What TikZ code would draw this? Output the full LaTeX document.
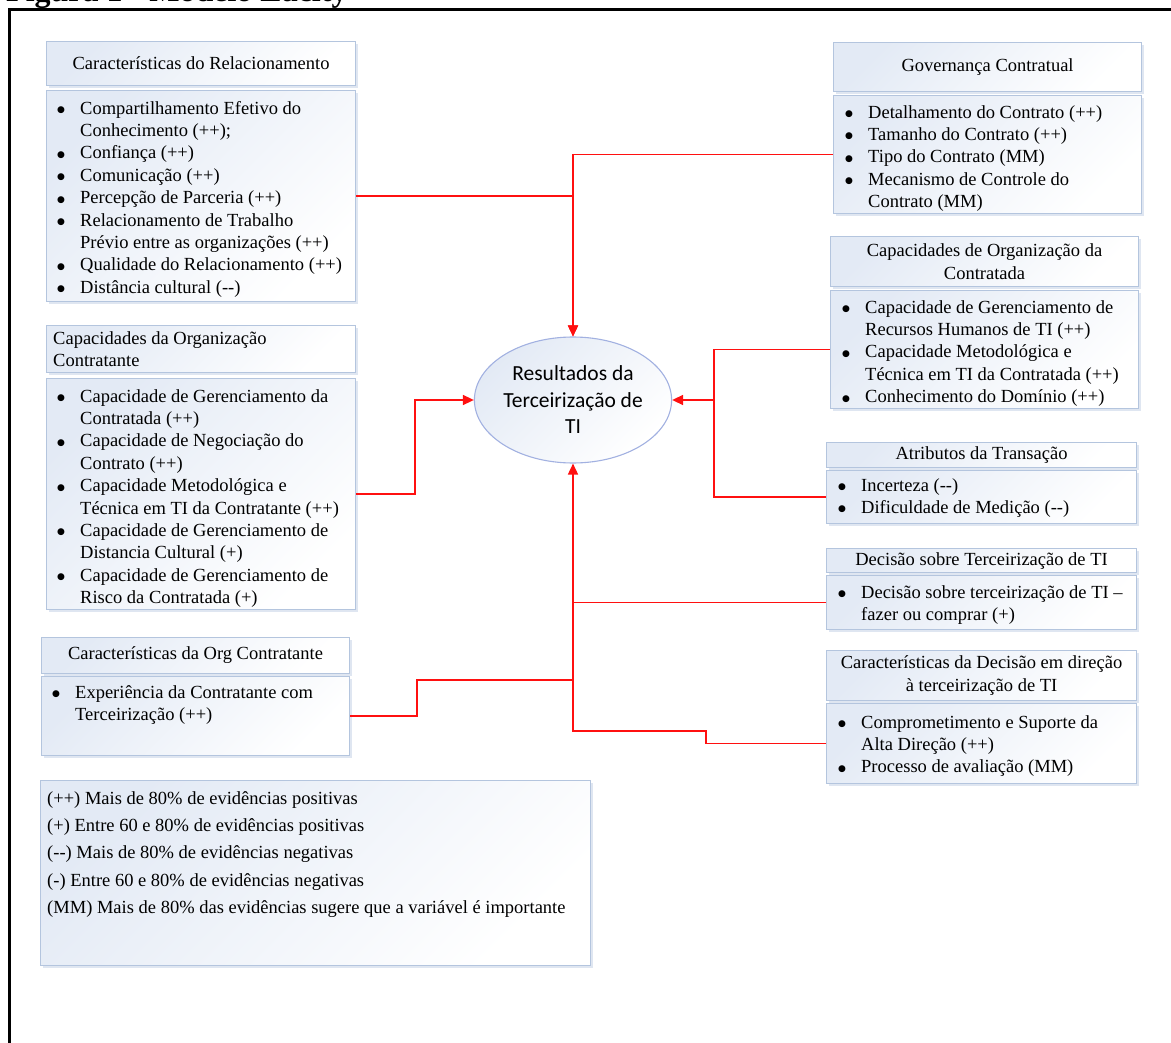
\documentclass[tikz,border=0pt]{standalone}
\usepackage{fontspec}
\setmainfont{Liberation Serif}
\newfontfamily\calfont{Carlito}
\newfontfamily\symfont{DejaVu Sans}
\usetikzlibrary{arrows.meta,shapes.geometric,shadows}

\definecolor{boxline}{HTML}{B4C5DE}
\definecolor{boxtop}{HTML}{E3EAF5}
\definecolor{shadowc}{HTML}{C9D5E8}
\definecolor{flow}{HTML}{FF1010}

% bullet list helpers
\newlength\bulw \setlength\bulw{23pt}
\newcommand\bul{\strut\makebox[\bulw][l]{\raisebox{1.6pt}{\symfont\fontsize{9}{9}\selectfont ●}}}
\newcommand\ind{\strut\hspace*{\bulw}}
\newcommand\dd{-{}-}

\tikzset{
  panel/.style={draw=boxline, line width=1.1pt, top color=boxtop, bottom color=white,
    shading angle=45, anchor=north west, inner sep=0pt, align=center,
    drop shadow={shadow xshift=2pt, shadow yshift=-2pt, fill=shadowc, opacity=0.6}},
  lst/.style={anchor=north west, inner sep=0pt, align=left},
  conn/.style={draw=flow, line width=1.6pt},
  arr/.style={conn, -{Triangle[length=11pt,width=10pt]}},
}

\begin{document}
\begin{tikzpicture}[x=1pt, y=-1pt, font=\fontsize{18.5}{22.4}\selectfont]
\path[use as bounding box] (0,0) rectangle (1171,1043);
\clip (0,0) rectangle (1171,1043);

% page title and frame
\node[anchor=base west, inner sep=0pt, font=\bfseries\fontsize{32}{36}\selectfont] (title) at (6,1.5) {Figura 1 - Modelo Lacity};
\draw[line width=3pt] (9.5,1050) -- (9.5,9.5) -- (1180,9.5);

% central outcome
\node[ellipse, draw=boxline!90!blue, line width=1.1pt, top color=boxtop, bottom color=white,
  shading angle=45, minimum width=186pt, minimum height=126pt, inner sep=0pt, align=center,
  font=\calfont\fontsize{21.5}{26.5}\selectfont] (res) at (573,400)
  {Resultados da\\Terceirização de\\TI};

% ---- left column ----
\node[panel, minimum width=309pt, minimum height=44pt] (hA) at (46,41) {Características do Relacionamento};
\node[panel, minimum width=309pt, minimum height=211pt] (bA) at (46,90) {};
\node[lst] (tA) at (57,98.3) {\bul Compartilhamento Efetivo do\\\ind Conhecimento (++);\\\bul Confiança (++)\\\bul Comunicação (++)\\\bul Percepção de Parceria (++)\\\bul Relacionamento de Trabalho\\\ind Prévio entre as organizações (++)\\\bul Qualidade do Relacionamento (++)\\\bul Distância cultural (\dd)};

\node[panel, minimum width=309pt, minimum height=47pt] (hB) at (46,325) {};
\node[lst] (thB) at (53,328.4) {\strut Capacidades da Organização\\\strut Contratante};
\node[panel, minimum width=309pt, minimum height=231pt] (bB) at (46,378) {};
\node[lst] (tB) at (57,386.3) {\bul Capacidade de Gerenciamento da\\\ind Contratada (++)\\\bul Capacidade de Negociação do\\\ind Contrato (++)\\\bul Capacidade Metodológica e\\\ind Técnica em TI da Contratante (++)\\\bul Capacidade de Gerenciamento de\\\ind Distancia Cultural (+)\\\bul Capacidade de Gerenciamento de\\\ind Risco da Contratada (+)};

\node[panel, minimum width=308pt, minimum height=36pt] (hC) at (41,637) {Características da Org Contratante};
\node[panel, minimum width=308pt, minimum height=79pt] (bC) at (41,676) {};
\node[lst] (tC) at (52,682.3) {\bul Experiência da Contratante com\\\ind Terceirização (++)};

\node[panel, minimum width=550pt, minimum height=185pt] (leg) at (40,780) {};
\node[lst, font=\fontsize{18.5}{27.3}\selectfont] (tleg) at (47,784.9) {\strut(++) Mais de 80\% de evidências positivas\\\strut(+) Entre 60 e 80\% de evidências positivas\\\strut(\dd) Mais de 80\% de evidências negativas\\\strut(-) Entre 60 e 80\% de evidências negativas\\\strut(MM) Mais de 80\% das evidências sugere que a variável é importante};

% ---- right column ----
\node[panel, minimum width=308pt, minimum height=49pt] (hD) at (833,42) {Governança Contratual};
\node[panel, minimum width=308pt, minimum height=118pt] (bD) at (833,95) {};
\node[lst] (tD) at (845,102.3) {\bul Detalhamento do Contrato (++)\\\bul Tamanho do Contrato (++)\\\bul Tipo do Contrato (MM)\\\bul Mecanismo de Controle do\\\ind Contrato (MM)};

\node[panel, minimum width=308pt, minimum height=50pt] (hE) at (830,236) {Capacidades de Organização da\\Contratada};
\node[panel, minimum width=308pt, minimum height=118pt] (bE) at (830,290) {};
\node[lst] (tE) at (842,297.3) {\bul Capacidade de Gerenciamento de\\\ind Recursos Humanos de TI (++)\\\bul Capacidade Metodológica e\\\ind Técnica em TI da Contratada (++)\\\bul Conhecimento do Domínio (++)};

\node[panel, minimum width=310pt, minimum height=25pt] (hF) at (826,442) {Atributos da Transação};
\node[panel, minimum width=310pt, minimum height=53pt] (bF) at (826,470) {};
\node[lst] (tF) at (838,475.3) {\bul Incerteza (\dd)\\\bul Dificuldade de Medição (\dd)};

\node[panel, minimum width=310pt, minimum height=24pt] (hG) at (826,548) {Decisão sobre Terceirização de TI};
\node[panel, minimum width=310pt, minimum height=54pt] (bG) at (826,575) {};
\node[lst] (tG) at (838,582.3) {\bul Decisão sobre terceirização de TI –\\\ind fazer ou comprar (+)};

\node[panel, minimum width=310pt, minimum height=50pt] (hH) at (826,650) {Características da Decisão em direção\\à terceirização de TI};
\node[panel, minimum width=310pt, minimum height=80pt] (bH) at (826,703) {};
\node[lst] (tH) at (838,712.3) {\bul Comprometimento e Suporte da\\\ind Alta Direção (++)\\\bul Processo de avaliação (MM)};

% ---- junction points of the orthogonal connectors ----
\coordinate (jL) at (415,400);
\coordinate (jR) at (714,400);
\coordinate (jO) at (417,680);
\coordinate (jD) at (706,731);

% ---- connectors ----
\draw[arr] (bA.east) -| (res.north);
\draw[arr] (bD.west) -| (res.north);
\draw[arr] (bB.east) -| (jL) -- (res.west);
\draw[conn] (bE.west) -| (jR);
\draw[conn] (bF.west) -| (jR);
\draw[arr] (jR) -- (res.east);
\draw[conn] (bG.west) -- (res.south |- bG.west);
\draw[conn] (bC.east) -| (jO) -- (res.south |- jO);
\draw[arr] (bH.west) -| (jD) -| (res.south);
\end{tikzpicture}
\end{document}
